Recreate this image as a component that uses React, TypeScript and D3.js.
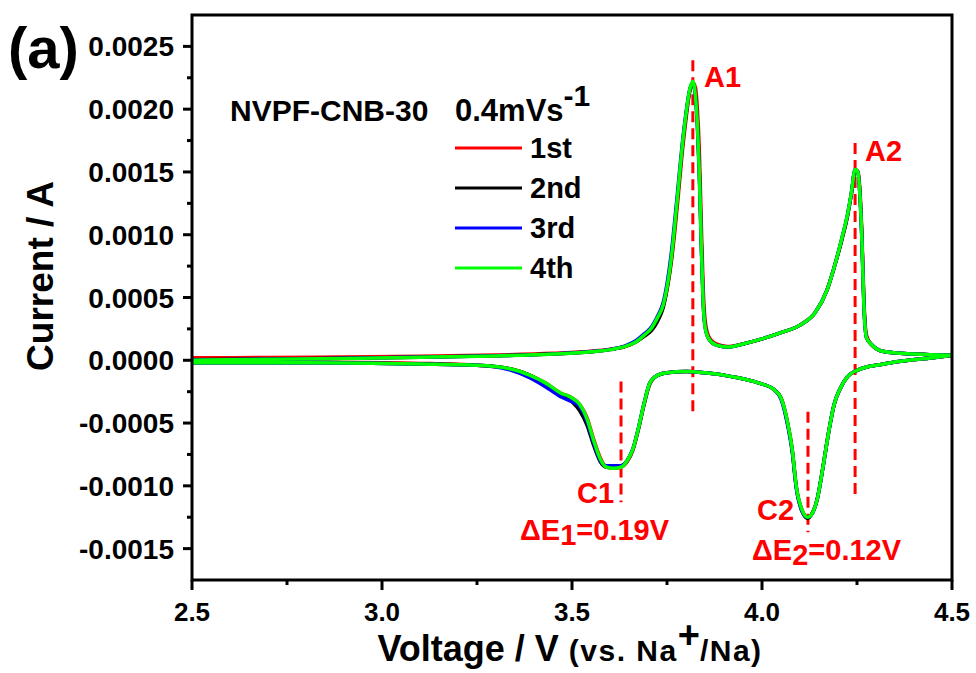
import React from "react";
import * as d3 from "d3";

// ---------- data ----------
const cycleNames = ["1st", "2nd", "3rd", "4th"];
const cycleColors = ["#ff0000", "#000000", "#0000ff", "#00ff00"];

const anodicV = [2.5, 2.7, 2.9, 3.1, 3.3, 3.45, 3.55, 3.6, 3.64, 3.67, 3.69, 3.71, 3.725, 3.74, 3.75, 3.76, 3.77, 3.78, 3.79, 3.8, 3.81, 3.818, 3.825, 3.83, 3.835, 3.84, 3.845, 3.85, 3.86, 3.88, 3.91, 3.95, 4.0, 4.05, 4.1, 4.14, 4.17, 4.19, 4.21, 4.225, 4.235, 4.245, 4.252, 4.258, 4.263, 4.268, 4.275, 4.29, 4.32, 4.4, 4.5];

const anodic1st = [0.00002, 0.000022, 0.000026, 0.000032, 0.000042, 0.000056, 0.000072, 0.000088, 0.00011, 0.00015, 0.0002, 0.00026, 0.00033, 0.00043, 0.00056, 0.00075, 0.00101, 0.00132, 0.00165, 0.00192, 0.00214, 0.00221, 0.00217, 0.002, 0.00168, 0.00112, 0.0006, 0.00033, 0.00019, 0.00013, 0.00011, 0.00013, 0.00017, 0.00022, 0.00028, 0.00038, 0.00055, 0.00074, 0.00096, 0.00115, 0.00132, 0.00151, 0.00151, 0.00134, 0.001, 0.0005, 0.0002, 0.00012, 0.00007, 0.00005, 0.00004];
const anodic2nd = [0.000005, 0.00001, 0.000016, 0.000025, 0.000036, 0.00005, 0.000068, 0.000085, 0.00011, 0.00015, 0.00019, 0.00024, 0.00031, 0.00042, 0.00057, 0.00077, 0.00105, 0.00137, 0.00169, 0.00195, 0.00215, 0.00221, 0.00211, 0.0019, 0.00152, 0.00097, 0.00049, 0.00028, 0.00017, 0.00012, 0.000105, 0.00013, 0.00017, 0.00022, 0.00028, 0.00038, 0.00055, 0.00074, 0.00096, 0.00115, 0.00132, 0.00151, 0.0015, 0.00131, 0.00096, 0.00046, 0.00018, 0.00012, 0.00007, 0.00005, 0.00004];
const anodic3rd = [0.000003, 0.000009, 0.000016, 0.000025, 0.000036, 0.000051, 0.000069, 0.000087, 0.000115, 0.00016, 0.00021, 0.00027, 0.00035, 0.00046, 0.00061, 0.00082, 0.0011, 0.00141, 0.00172, 0.00197, 0.00216, 0.00221, 0.00209, 0.00186, 0.00148, 0.00094, 0.00047, 0.00027, 0.00017, 0.00012, 0.000105, 0.00013, 0.00017, 0.00022, 0.00028, 0.00038, 0.00055, 0.00074, 0.00097, 0.00116, 0.00133, 0.00152, 0.0015, 0.0013, 0.00095, 0.00045, 0.00018, 0.00012, 0.00007, 0.00005, 0.00004];
const anodic4th = [0.0, 0.000008, 0.000015, 0.000024, 0.000035, 0.00005, 0.000068, 0.000085, 0.00011, 0.00015, 0.0002, 0.00026, 0.00034, 0.00044, 0.00058, 0.00078, 0.00106, 0.00138, 0.0017, 0.00196, 0.00216, 0.00222, 0.0021, 0.00188, 0.0015, 0.00095, 0.00048, 0.00027, 0.00017, 0.00012, 0.000105, 0.00013, 0.00017, 0.00022, 0.00028, 0.00038, 0.00055, 0.00074, 0.00097, 0.00116, 0.00133, 0.00152, 0.0015, 0.0013, 0.00095, 0.00045, 0.00018, 0.00012, 0.00007, 0.00005, 0.00004];

const cathodicV = [2.5, 2.8, 3.1, 3.25, 3.34, 3.39, 3.43, 3.47, 3.5, 3.52, 3.54, 3.555, 3.575, 3.59, 3.61, 3.63, 3.645, 3.66, 3.675, 3.69, 3.705, 3.725, 3.75, 3.8, 3.85, 3.92, 3.99, 4.03, 4.05, 4.065, 4.08, 4.09, 4.105, 4.12, 4.13, 4.145, 4.16, 4.175, 4.19, 4.205, 4.225, 4.25, 4.28, 4.31, 4.36, 4.45, 4.5];

const cathodic1st = [-0.00001, -0.000015, -0.000025, -0.00004, -0.00007, -0.00012, -0.00018, -0.00026, -0.0003, -0.00035, -0.00046, -0.00061, -0.00078, -0.00085, -0.00086, -0.00085, -0.00081, -0.00072, -0.00055, -0.00035, -0.00019, -0.00012, -0.0001, -0.00009, -0.0001, -0.00013, -0.00018, -0.00023, -0.0003, -0.00046, -0.00072, -0.001, -0.00119, -0.00125, -0.00123, -0.00111, -0.00086, -0.00058, -0.00035, -0.00023, -0.00013, -0.00008, -0.00005, -0.000035, -0.00001, 0.00002, 0.00004];
const cathodic2nd = [-0.00002, -0.00002, -0.00003, -0.00004, -0.00007, -0.00012, -0.00019, -0.00027, -0.00033, -0.0004, -0.00052, -0.00066, -0.00081, -0.00085, -0.00085, -0.00084, -0.0008, -0.00071, -0.00054, -0.00034, -0.00018, -0.00012, -0.0001, -0.00009, -0.0001, -0.00013, -0.00018, -0.00023, -0.0003, -0.00047, -0.00073, -0.00101, -0.0012, -0.00126, -0.00123, -0.00111, -0.00086, -0.00058, -0.00035, -0.00023, -0.00013, -0.00008, -0.00005, -0.000035, -0.00001, 0.00002, 0.00004];
const cathodic3rd = [-0.00002, -0.00002, -0.00003, -0.00004, -0.00008, -0.00014, -0.00021, -0.00029, -0.00033, -0.00037, -0.00049, -0.00064, -0.0008, -0.00084, -0.00084, -0.00084, -0.0008, -0.00071, -0.00054, -0.00034, -0.00018, -0.00012, -0.0001, -0.00009, -0.0001, -0.00013, -0.00018, -0.00023, -0.00031, -0.00048, -0.00074, -0.00101, -0.0012, -0.00125, -0.00123, -0.00111, -0.00086, -0.00058, -0.00035, -0.00023, -0.00013, -0.00008, -0.00005, -0.000035, -0.00001, 0.00002, 0.00004];
const cathodic4th = [-0.00002, -0.00002, -0.00003, -0.00004, -0.00007, -0.00012, -0.00018, -0.00026, -0.0003, -0.00035, -0.00047, -0.00062, -0.00079, -0.00085, -0.00086, -0.00085, -0.0008, -0.00071, -0.00054, -0.00034, -0.00018, -0.00012, -0.0001, -0.00009, -0.0001, -0.00013, -0.00018, -0.00023, -0.0003, -0.00046, -0.00072, -0.001, -0.00119, -0.00125, -0.00123, -0.00111, -0.00086, -0.00058, -0.00035, -0.00023, -0.00013, -0.00008, -0.00005, -0.000035, -0.00001, 0.00002, 0.00004];

const anodicSeries = [anodic1st, anodic2nd, anodic3rd, anodic4th];
const cathodicSeries = [cathodic1st, cathodic2nd, cathodic3rd, cathodic4th];

// peak markers (dashed lines): potential, top and bottom current of the line
const peakNames = ["A1", "A2", "C1", "C2"];
const peakV = [3.818, 4.245, 3.629, 4.121];
const peakLineTop = [0.00239, 0.00173, -0.00017, -0.00041];
const peakLineBottom = [-0.00042, -0.00109, -0.00113, -0.00137];
const deltaLabels = ["ΔE|1|=0.19V", "ΔE|2|=0.12V"];

const xMajorTicks = [2.5, 3.0, 3.5, 4.0, 4.5];
const xMinorTicks = [2.75, 3.25, 3.75, 4.25];
const yMajorTicks = [-0.0015, -0.001, -0.0005, 0, 0.0005, 0.001, 0.0015, 0.002, 0.0025];
const yMinorTicks = [-0.00125, -0.00075, -0.00025, 0.00025, 0.00075, 0.00125, 0.00175, 0.00225];

const FONT = "'Liberation Sans', Arial, Helvetica, sans-serif";

export default function App() {
  const W = 976;
  const H = 673;
  const x = d3.scaleLinear().domain([2.5, 4.5]).range([192, 952]);
  const y = d3.scaleLinear().domain([-0.00175, 0.00275]).range([580, 15]);

  const line = d3
    .line<[number, number]>()
    .x((d) => x(d[0]))
    .y((d) => y(d[1]))
    .curve(d3.curveMonotoneX);

  const paths: { d: string; color: string }[] = [];
  cycleNames.forEach((_, i) => {
    paths.push({ d: line(anodicV.map((v, j) => [v, anodicSeries[i][j]] as [number, number])) || "", color: cycleColors[i] });
    paths.push({ d: line(cathodicV.map((v, j) => [v, cathodicSeries[i][j]] as [number, number])) || "", color: cycleColors[i] });
  });

  const red = "#ff0000";

  return (
    <svg
      width={W}
      height={H}
      viewBox={`0 0 ${W} ${H}`}
      style={{ position: "absolute", left: 0, top: 0, display: "block", background: "#fff" }}
      fontFamily={FONT}
      fontWeight="bold"
    >
      <rect x={0} y={0} width={W} height={H} fill="#fff" />

      {/* peak dashed lines */}
      {peakNames.map((n, i) => (
        <line
          key={"pl" + n}
          x1={x(peakV[i])}
          x2={x(peakV[i])}
          y1={y(peakLineTop[i])}
          y2={y(peakLineBottom[i])}
          stroke={red}
          strokeWidth={3}
          strokeDasharray="11,6"
        />
      ))}

      {/* curves */}
      {paths.map((p, i) => (
        <path key={"c" + i} d={p.d} fill="none" stroke={p.color} strokeWidth={3.5} strokeLinejoin="round" />
      ))}

      {/* frame */}
      <rect x={192} y={15} width={760} height={565} fill="none" stroke="#000" strokeWidth={3} />

      {/* y ticks */}
      {yMajorTicks.map((t) => (
        <g key={"ym" + t}>
          <line x1={183} x2={192} y1={y(t)} y2={y(t)} stroke="#000" strokeWidth={3} />
          <text x={174} y={y(t)} dy="0.36em" textAnchor="end" fontSize={28}>
            {t.toFixed(4)}
          </text>
        </g>
      ))}
      {yMinorTicks.map((t) => (
        <line key={"yn" + t} x1={187} x2={192} y1={y(t)} y2={y(t)} stroke="#000" strokeWidth={3} />
      ))}

      {/* x ticks */}
      {xMajorTicks.map((t) => (
        <g key={"xm" + t}>
          <line x1={x(t)} x2={x(t)} y1={580} y2={590} stroke="#000" strokeWidth={3} />
          <text x={x(t)} y={621} textAnchor="middle" fontSize={26}>
            {t.toFixed(1)}
          </text>
        </g>
      ))}
      {xMinorTicks.map((t) => (
        <line key={"xn" + t} x1={x(t)} x2={x(t)} y1={580} y2={585} stroke="#000" strokeWidth={3} />
      ))}

      {/* axis titles */}
      <text transform="translate(53,276) rotate(-90)" textAnchor="middle" fontSize={37}>
        Current / A
      </text>
      <text x={570} y={661} textAnchor="middle">
        <tspan fontSize={36}>Voltage / V </tspan>
        <tspan fontSize={30} letterSpacing={1.5}>(vs. Na</tspan>
        <tspan fontSize={38} dy={-13}>+</tspan>
        <tspan fontSize={30} dy={13} letterSpacing={1.5}>/Na)</tspan>
      </text>

      {/* panel label */}
      <text x={8} y={68} fontSize={58}>
        (a)
      </text>

      {/* legend */}
      <text x={230} y={121} fontSize={30}>
        NVPF-CNB-30
      </text>
      <text x={455} y={121} fontSize={31}>
        0.4mVs<tspan dy={-15} fontSize={30}>-1</tspan>
      </text>
      {cycleNames.map((n, i) => (
        <g key={"lg" + n}>
          <line x1={455} x2={522} y1={148 + i * 40} y2={148 + i * 40} stroke={cycleColors[i]} strokeWidth={3} />
          <text x={530} y={158 + i * 40} fontSize={29}>
            {n}
          </text>
        </g>
      ))}

      {/* peak labels */}
      <text x={704} y={87} fontSize={29} fill={red}>{peakNames[0]}</text>
      <text x={865} y={161} fontSize={29} fill={red}>{peakNames[1]}</text>
      <text x={577} y={503} fontSize={29} fill={red}>{peakNames[2]}</text>
      <text x={757} y={520} fontSize={29} fill={red}>{peakNames[3]}</text>
      {deltaLabels.map((s, i) => {
        const [a, b, c] = s.split("|");
        return (
          <text key={"dl" + i} x={i === 0 ? 520 : 752} y={i === 0 ? 540 : 560} fontSize={29} fill={red}>
            {a}
            <tspan dy={5}>{b}</tspan>
            <tspan dy={-5}>{c}</tspan>
          </text>
        );
      })}
    </svg>
  );
}
